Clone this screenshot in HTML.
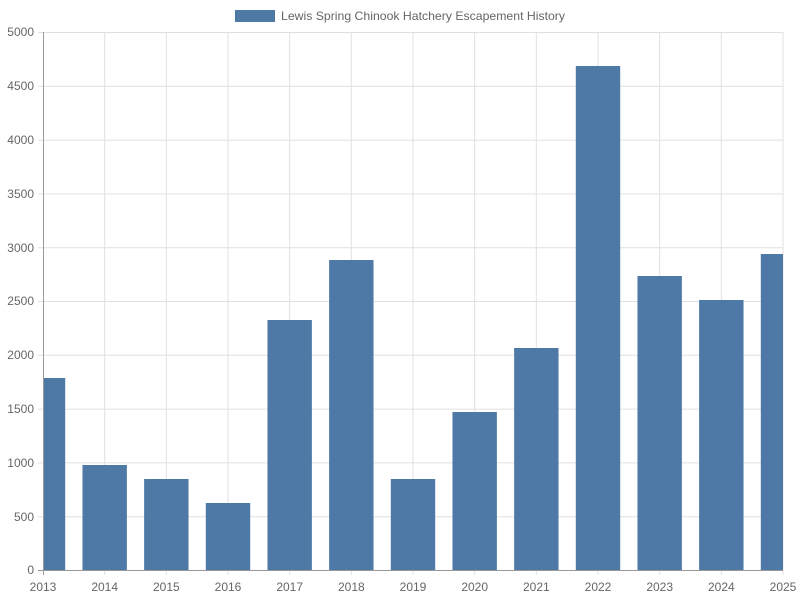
<!DOCTYPE html>
<html><head><meta charset="utf-8"><style>body{margin:0;background:#fff}svg{display:block}text{font-family:"Liberation Sans",sans-serif;font-size:12px;fill:#666}</style></head><body>
<svg width="800" height="600" xmlns="http://www.w3.org/2000/svg">
<rect x="235" y="10" width="40" height="12" fill="#4e79a7"/>
<text x="281" y="20" textLength="284" lengthAdjust="spacingAndGlyphs">Lewis Spring Chinook Hatchery Escapement History</text>
<g stroke="#e0e0e0" stroke-width="1">
<line x1="38" y1="32.5" x2="783" y2="32.5"/><line x1="38" y1="86.3" x2="783" y2="86.3"/><line x1="38" y1="140.1" x2="783" y2="140.1"/><line x1="38" y1="193.9" x2="783" y2="193.9"/><line x1="38" y1="247.7" x2="783" y2="247.7"/><line x1="38" y1="301.5" x2="783" y2="301.5"/><line x1="38" y1="355.3" x2="783" y2="355.3"/><line x1="38" y1="409.1" x2="783" y2="409.1"/><line x1="38" y1="462.9" x2="783" y2="462.9"/><line x1="38" y1="516.7" x2="783" y2="516.7"/>
<line x1="104.67" y1="32" x2="104.67" y2="575"/><line x1="166.33" y1="32" x2="166.33" y2="575"/><line x1="228" y1="32" x2="228" y2="575"/><line x1="289.67" y1="32" x2="289.67" y2="575"/><line x1="351.33" y1="32" x2="351.33" y2="575"/><line x1="413" y1="32" x2="413" y2="575"/><line x1="474.67" y1="32" x2="474.67" y2="575"/><line x1="536.33" y1="32" x2="536.33" y2="575"/><line x1="598" y1="32" x2="598" y2="575"/><line x1="659.67" y1="32" x2="659.67" y2="575"/><line x1="721.33" y1="32" x2="721.33" y2="575"/><line x1="783" y1="32" x2="783" y2="575"/>
</g>
<g fill="#4e79a7">
<rect x="43" y="378" width="22.2" height="192"/>
<rect x="82.47" y="465" width="44.4" height="105"/>
<rect x="144.13" y="479" width="44.4" height="91"/>
<rect x="205.8" y="503" width="44.4" height="67"/>
<rect x="267.47" y="320" width="44.4" height="250"/>
<rect x="329.13" y="260" width="44.4" height="310"/>
<rect x="390.8" y="479" width="44.4" height="91"/>
<rect x="452.47" y="412" width="44.4" height="158"/>
<rect x="514.13" y="348" width="44.4" height="222"/>
<rect x="575.8" y="66" width="44.4" height="504"/>
<rect x="637.47" y="276" width="44.4" height="294"/>
<rect x="699.13" y="300" width="44.4" height="270"/>
<rect x="760.8" y="254" width="22.2" height="316"/>
</g>
<g stroke="#999" stroke-width="1">
<line x1="43.5" y1="32" x2="43.5" y2="575"/><line x1="38" y1="570.5" x2="783" y2="570.5"/>
</g>
<g text-anchor="end">
<text x="34" y="36">5000</text><text x="34" y="90">4500</text><text x="34" y="144">4000</text><text x="34" y="198">3500</text><text x="34" y="252">3000</text><text x="34" y="305">2500</text><text x="34" y="359">2000</text><text x="34" y="413">1500</text><text x="34" y="467">1000</text><text x="34" y="521">500</text><text x="34" y="574">0</text>
</g>
<g text-anchor="middle">
<text x="43" y="591">2013</text><text x="104.67" y="591">2014</text><text x="166.33" y="591">2015</text><text x="228" y="591">2016</text><text x="289.67" y="591">2017</text><text x="351.33" y="591">2018</text><text x="413" y="591">2019</text><text x="474.67" y="591">2020</text><text x="536.33" y="591">2021</text><text x="598" y="591">2022</text><text x="659.67" y="591">2023</text><text x="721.33" y="591">2024</text><text x="783" y="591">2025</text>
</g>
</svg>
</body></html>
